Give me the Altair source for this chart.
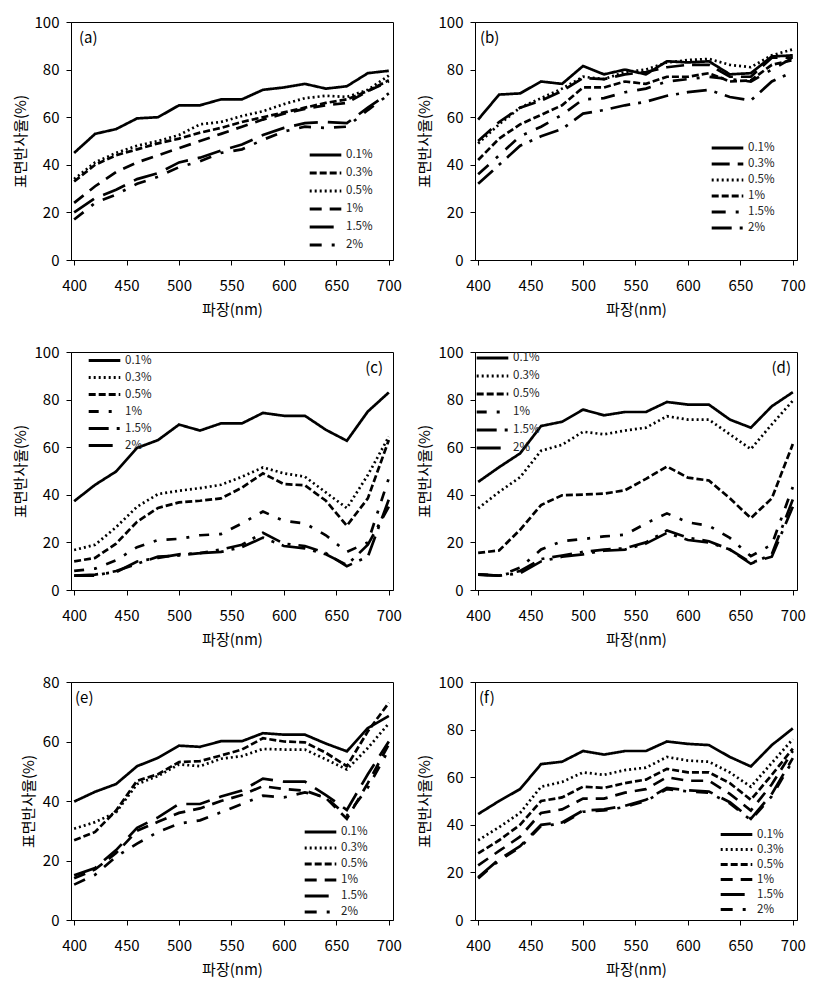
import altair as alt
import pandas as pd

wavelength = [400, 420, 440, 460, 480, 500, 520, 540, 560, 580, 600, 620, 640, 660, 680, 700]
series = ["0.1%", "0.3%", "0.5%", "1%", "1.5%", "2%"]

# (a)
a_01 = [45, 53, 55, 59.5, 60, 65, 65, 67.5, 67.5, 71.5, 72.5, 74, 72, 73, 78.5, 79.5]
a_03 = [33, 40, 44, 46.5, 49, 51, 53.5, 55.5, 58, 60, 62, 64, 66, 67.5, 71, 75.5]
a_05 = [34, 41, 45, 48, 50, 52.5, 57, 58, 60.5, 62.5, 65.5, 68, 69, 68.5, 71.5, 77.5]
a_1 = [24, 31, 37, 41, 44, 47, 50, 53, 56, 59, 61.5, 63.5, 65, 66, 71, 75]
a_15 = [20, 26, 29.5, 34, 36.5, 41, 43, 46, 48.5, 52.5, 55.5, 57.5, 58, 57.5, 64, 70]
a_2 = [17, 24, 27.5, 32, 35, 39, 41.5, 45, 46.5, 50.5, 54, 56, 55.5, 56, 63, 69.5]

# (b)
b_01 = [59, 69.5, 70, 75, 74, 81.5, 78, 80, 78, 83.5, 83, 83.5, 78, 78.5, 85.5, 86]
b_03 = [50, 58, 64, 67, 71, 76.5, 76, 78, 79, 81, 82, 82, 77, 77, 85, 85]
b_05 = [49, 57, 64, 68, 72, 77, 76, 79, 80, 83, 84, 84.5, 82, 81, 86, 88.5]
b_1 = [42, 51, 57, 61, 65, 72.5, 72.5, 75, 74, 77, 77, 78.5, 75, 75.5, 82, 84]
b_15 = [36, 44, 52, 56, 61, 67.5, 68, 70.5, 72, 75, 76, 77, 76, 75, 80, 85]
b_2 = [32, 40, 48, 52, 55, 61.5, 63, 65, 66.5, 69, 70.5, 71.5, 68.5, 67, 75, 79]

# (c)
c_01 = [37.3, 44.2, 49.8, 59.7, 63, 69.5, 67, 70, 70, 74.4, 73.2, 73.2, 67.3, 62.7, 75, 83]
c_03 = [16.8, 19, 26.4, 35, 40.3, 41.7, 42.8, 44.2, 47.6, 51.5, 49, 47.6, 41, 34.4, 48.3, 64.4]
c_05 = [12, 13.5, 19.5, 28.7, 34.5, 36.8, 37.5, 38.5, 43, 49, 44.5, 44, 37.5, 27, 38.5, 63]
c_1 = [8, 9, 12.5, 18, 21, 21.5, 23, 23.5, 28, 33, 29, 28, 23, 16, 20, 47]
c_15 = [6, 6, 8, 11, 14, 14.5, 15.5, 17, 19, 24, 19.5, 18.5, 15.5, 10, 14, 38]
c_2 = [6, 6.5, 7.5, 12, 13.5, 15, 15.5, 16, 18, 22, 18.5, 17.5, 15, 10.5, 19, 35]

# (d)
d_01 = [45.4, 51.6, 57.4, 68.9, 70.7, 75.8, 73.4, 74.8, 74.8, 79, 77.9, 77.9, 71.6, 68.2, 77.2, 83.1]
d_03 = [34.3, 41.2, 47.4, 58.5, 61, 66.5, 65.4, 67, 68.2, 73, 71.6, 71.6, 65.4, 59.2, 69.6, 79.5]
d_05 = [15.6, 16.6, 25.3, 35.7, 39.8, 40.1, 40.5, 41.9, 46.7, 51.9, 47.2, 46, 38.5, 30.2, 38.5, 61.3]
d_1 = [6.6, 6, 9.4, 17, 20.5, 21.4, 22.5, 23.2, 28, 32.2, 28.4, 27, 21.9, 14.2, 19.1, 43.3]
d_15 = [6.5, 6, 8, 13, 14.5, 16, 17, 17.5, 20, 25, 22, 20.5, 17, 11, 15, 38]
d_2 = [6.5, 6, 7, 12, 14, 15, 16.5, 17, 19.5, 24, 21, 20, 17, 11.5, 14, 35]

# (e)
e_01 = [39.8, 43.1, 45.7, 51.7, 54.5, 58.6, 58.2, 60.1, 60.1, 62.8, 62.3, 62.3, 59.3, 56.7, 64.5, 68.6]
e_03 = [30.7, 32.9, 36.2, 45.7, 48.4, 52.3, 51.7, 54.2, 55.1, 57.5, 57.3, 57.3, 54, 50.6, 57.8, 66.1]
e_05 = [26.8, 29.6, 36.8, 46.8, 49, 53.1, 53.4, 55.3, 57.3, 61.1, 60, 59.7, 56.2, 51.7, 63.4, 73]
e_1 = [14, 17, 22.5, 30, 33, 36, 37.5, 40, 42, 45, 44, 43.5, 41, 34, 46, 59]
e_15 = [15, 17.5, 23.5, 31, 34.5, 39, 39, 41.5, 43.5, 47.5, 46.5, 46.5, 42, 37, 49, 60]
e_2 = [11.9, 15.2, 21.3, 25.7, 29.6, 32.4, 33.5, 36.2, 39, 41.8, 41.2, 42.9, 41.2, 35.1, 44.5, 57.3]

# (f)
f_01 = [44.5, 50, 55, 65.5, 66.5, 71, 69.5, 71, 71, 75, 74, 73.5, 68.5, 64.5, 73.5, 80.5]
f_03 = [33.5, 39, 45, 56, 58, 62, 61, 63, 64, 68.5, 67, 66.5, 62, 56, 66, 76]
f_05 = [28, 33.5, 40, 50, 51.5, 56, 55.5, 57.5, 59, 63.5, 62, 62, 57.5, 50.5, 61, 72]
f_1 = [23, 29, 35, 45, 46.5, 51, 51, 53.5, 55, 60, 58.5, 58.5, 53, 46, 57, 71]
f_15 = [18, 25.5, 31, 40, 41, 46, 46.5, 48, 50.5, 55.5, 54.5, 54, 49.5, 42.5, 53, 68]
f_2 = [17.5, 25, 30.5, 39.5, 40.5, 45.5, 46, 47.5, 50, 55, 54, 53.5, 49, 42, 52, 67]

panels = [
    ("(a)", [a_01, a_03, a_05, a_1, a_15, a_2]),
    ("(b)", [b_01, b_03, b_05, b_1, b_15, b_2]),
    ("(c)", [c_01, c_03, c_05, c_1, c_15, c_2]),
    ("(d)", [d_01, d_03, d_05, d_1, d_15, d_2]),
    ("(e)", [e_01, e_03, e_05, e_1, e_15, e_2]),
    ("(f)", [f_01, f_03, f_05, f_1, f_15, f_2]),
]

SOLID = [1, 0]
DOT = [2, 3]
SHORT = [7, 3]
MED = [12, 8]
LONG = [24, 10]
DASHDOT = [12, 10, 3, 10]
LONGDOT = [20, 8, 3, 8]
dash_sets = {
    "(a)": [SOLID, SHORT, DOT, MED, LONG, DASHDOT],
    "(b)": [SOLID, [18, 8], DOT, SHORT, [14, 10, 3, 10], LONGDOT],
    "(c)": [SOLID, DOT, SHORT, [10, 10, 3, 10], LONGDOT, [24, 8, 3, 8]],
    "(d)": [SOLID, DOT, SHORT, [10, 10, 3, 10], LONGDOT, [24, 8, 3, 8]],
    "(e)": [SOLID, DOT, SHORT, MED, LONG, DASHDOT],
    "(f)": [SOLID, DOT, SHORT, MED, LONG, DASHDOT],
}
# legend placement (x, y) inside the plot, and row height
legend_pos = {
    "(a)": (237, 124, 18),
    "(b)": (235, 118, 16),
    "(c)": (16, 0, 17),
    "(d)": (0, -3, 18),
    "(e)": (232, 142, 16),
    "(f)": (244, 145, 15),
}
label_pos = {
    "(a)": ("left", 8), "(b)": ("left", 5), "(c)": ("right", -10),
    "(d)": ("right", -6), "(e)": ("left", 4), "(f)": ("left", 4),
}
ymax = {"(a)": 100, "(b)": 100, "(c)": 100, "(d)": 100, "(e)": 80, "(f)": 100}

W, H = 322, 238
FONT = "Noto Sans CJK KR"

charts = []
for name, vals in panels:
    rows = []
    for s, v in zip(series, vals):
        for x, y in zip(wavelength, v):
            rows.append({"wl": x, "r": y, "s": s})
    df = pd.DataFrame(rows)
    lx, ly, rowh = legend_pos[name]
    lines = alt.Chart(df).mark_line(color="black", strokeWidth=2.7).encode(
        x=alt.X("wl:Q", scale=alt.Scale(domain=[397, 704], nice=False, zero=False),
                axis=alt.Axis(values=[400, 450, 500, 550, 600, 650, 700], title="파장(nm)",
                              grid=False, tickSize=5, labelPadding=13, titlePadding=9)),
        y=alt.Y("r:Q", scale=alt.Scale(domain=[0, ymax[name]], nice=False),
                axis=alt.Axis(values=list(range(0, ymax[name] + 1, 20)), title="표면반사율(%)",
                              grid=False, tickSize=5, labelPadding=7, titlePadding=6)),
        strokeDash=alt.StrokeDash("s:N", scale=alt.Scale(domain=series, range=dash_sets[name]),
                                  sort=series,
                                  legend=alt.Legend(title=None, orient="none", legendX=lx, legendY=ly,
                                                    symbolType="stroke", symbolSize=1000,
                                                    symbolStrokeWidth=2.8, symbolStrokeColor="black",
                                                    clipHeight=rowh, rowPadding=0, padding=0,
                                                    labelFontSize=11.5, labelFont=FONT,
                                                    labelOffset=3, labelColor="#222")),
        detail="s:N",
    )
    align, off = label_pos[name]
    xv = off if align == "left" else W + off
    lab = alt.Chart(pd.DataFrame({"t": [name]})).mark_text(
        align=align, baseline="top", fontSize=15, font=FONT, color="black"
    ).encode(text="t:N", x=alt.value(xv), y=alt.value(9))
    charts.append(alt.layer(lines, lab).properties(width=W, height=H))

chart = alt.concat(*charts, columns=2, spacing={"row": 26, "column": 14})
chart = chart.resolve_scale(strokeDash="independent", x="independent", y="independent").resolve_legend(
    strokeDash="independent")
chart = chart.properties(
    padding={"left": 4, "top": 6, "right": 5, "bottom": 5}, background="white"
).configure_view(
    stroke="black", strokeWidth=1
).configure_axis(
    labelFont=FONT, titleFont=FONT, labelFontSize=15, titleFontSize=15,
    titleFontWeight="normal", labelColor="black", titleColor="black",
    domainColor="black", tickColor="black"
)

chart.save("out.html", embed_options={"renderer": "svg", "actions": False})
